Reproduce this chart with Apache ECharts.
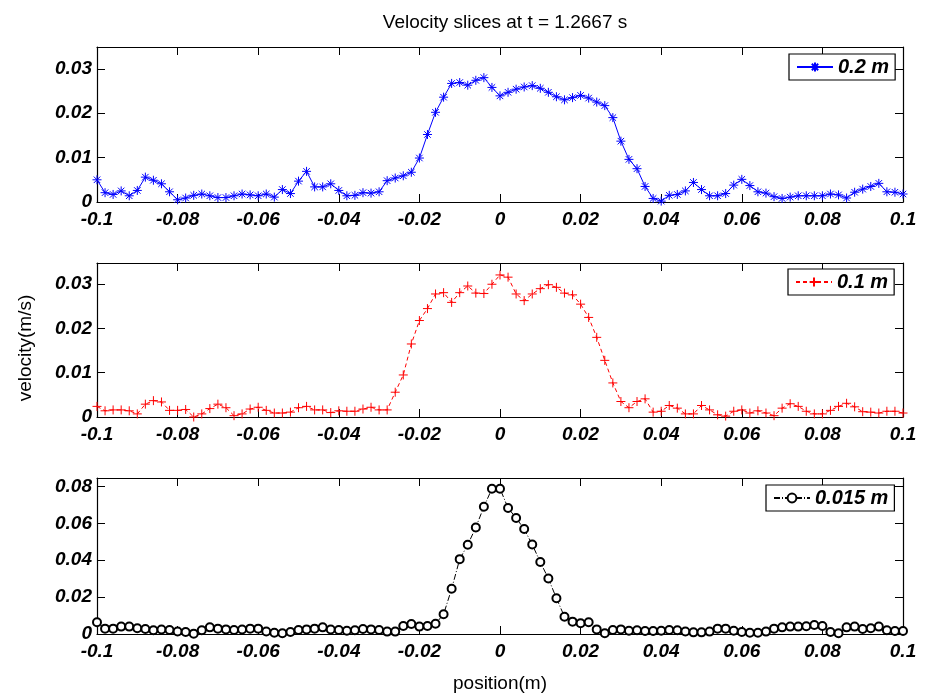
<!DOCTYPE html>
<html>
<head>
<meta charset="utf-8">
<script src="https://cdn.jsdelivr.net/npm/echarts@6/dist/echarts.min.js"></script>
<style>
  html, body { margin: 0; padding: 0; background: #fff; }
  #velocity-slices { width: 928px; height: 695px; }
</style>
</head>
<body>
<div id="velocity-slices"></div>
<script>
// sample positions along the slice (m), 101 points from -0.1 to 0.1
var positions = [];
for (var i = 0; i <= 100; i++) {
  positions.push(+(-0.1 + i * 0.002).toFixed(3));
}

var xTicks = ["-0.1", "-0.08", "-0.06", "-0.04", "-0.02", "0", "0.02", "0.04", "0.06", "0.08", "0.1"];
var sliceNames = ["0.2 m", "0.1 m", "0.015 m"];

// velocity (m/s) at height 0.2 m
var vel02 = [
  0.0050, 0.0021, 0.0017, 0.0025, 0.0014, 0.0026, 0.0056, 0.0049, 0.0041, 0.0023,
  0.0005, 0.0009, 0.0015, 0.0018, 0.0014, 0.0010, 0.0010, 0.0014, 0.0018, 0.0016,
  0.0014, 0.0018, 0.0011, 0.0028, 0.0019, 0.0047, 0.0069, 0.0034, 0.0034, 0.0041,
  0.0026, 0.0014, 0.0015, 0.0021, 0.0020, 0.0023, 0.0048, 0.0054, 0.0059, 0.0067,
  0.0099, 0.0152, 0.0202, 0.0236, 0.0267, 0.0269, 0.0263, 0.0274, 0.0280, 0.0258,
  0.0239, 0.0247, 0.0254, 0.0259, 0.0262, 0.0256, 0.0247, 0.0237, 0.0230, 0.0235,
  0.0240, 0.0234, 0.0225, 0.0217, 0.0190, 0.0137, 0.0096, 0.0075, 0.0035, 0.0008,
  0.0002, 0.0015, 0.0017, 0.0025, 0.0044, 0.0028, 0.0014, 0.0014, 0.0019, 0.0038,
  0.0051, 0.0037, 0.0023, 0.0020, 0.0012, 0.0008, 0.0011, 0.0014, 0.0014, 0.0014,
  0.0014, 0.0018, 0.0016, 0.0009, 0.0022, 0.0029, 0.0035, 0.0042, 0.0023, 0.0022,
  0.0018
];

// velocity (m/s) at height 0.1 m
var vel01 = [
  0.0024, 0.0014, 0.0016, 0.0016, 0.0014, 0.0007, 0.0029, 0.0037, 0.0034, 0.0015,
  0.0015, 0.0017, 0.0000, 0.0007, 0.0019, 0.0029, 0.0021, 0.0003, 0.0007, 0.0018,
  0.0022, 0.0015, 0.0009, 0.0009, 0.0011, 0.0021, 0.0024, 0.0016, 0.0016, 0.0010,
  0.0014, 0.0013, 0.0013, 0.0018, 0.0022, 0.0016, 0.0016, 0.0056, 0.0095, 0.0165,
  0.0218, 0.0245, 0.0278, 0.0281, 0.0259, 0.0281, 0.0296, 0.0280, 0.0279, 0.0300,
  0.0321, 0.0316, 0.0278, 0.0263, 0.0278, 0.0290, 0.0299, 0.0293, 0.0280, 0.0276,
  0.0255, 0.0225, 0.0180, 0.0128, 0.0077, 0.0035, 0.0021, 0.0035, 0.0041, 0.0011,
  0.0013, 0.0026, 0.0020, 0.0007, 0.0007, 0.0026, 0.0016, 0.0005, 0.0002, 0.0013,
  0.0016, 0.0009, 0.0014, 0.0009, 0.0003, 0.0020, 0.0030, 0.0024, 0.0013, 0.0007,
  0.0007, 0.0015, 0.0024, 0.0031, 0.0023, 0.0012, 0.0011, 0.0009, 0.0013, 0.0013,
  0.0009
];

// velocity (m/s) at height 0.015 m
var vel0015 = [
  0.0064, 0.0029, 0.0029, 0.0040, 0.0040, 0.0031, 0.0027, 0.0020, 0.0024, 0.0022,
  0.0014, 0.0011, 0.0002, 0.0020, 0.0036, 0.0029, 0.0025, 0.0022, 0.0024, 0.0029,
  0.0029, 0.0014, 0.0007, 0.0004, 0.0011, 0.0022, 0.0025, 0.0029, 0.0036, 0.0024,
  0.0022, 0.0018, 0.0020, 0.0027, 0.0025, 0.0022, 0.0013, 0.0013, 0.0043, 0.0054,
  0.0040, 0.0043, 0.0056, 0.0107, 0.0245, 0.0406, 0.0484, 0.0578, 0.0690, 0.0788,
  0.0788, 0.0683, 0.0629, 0.0569, 0.0485, 0.0390, 0.0301, 0.0194, 0.0094, 0.0067,
  0.0058, 0.0064, 0.0025, 0.0004, 0.0022, 0.0025, 0.0018, 0.0020, 0.0016, 0.0016,
  0.0018, 0.0022, 0.0020, 0.0014, 0.0009, 0.0009, 0.0013, 0.0029, 0.0029, 0.0018,
  0.0011, 0.0007, 0.0007, 0.0013, 0.0029, 0.0036, 0.0040, 0.0040, 0.0042, 0.0049,
  0.0043, 0.0011, 0.0004, 0.0036, 0.0040, 0.0027, 0.0031, 0.0040, 0.0020, 0.0016,
  0.0016
];

var font = "'Liberation Sans', Arial, Helvetica, sans-serif";
var tickFont = { color: "#000", fontSize: 19, fontWeight: "bold", fontStyle: "italic", fontFamily: font };

// subplot boxes
var grids = [
  { left: 97, top: 47, width: 806, height: 155 },
  { left: 97, top: 263, width: 806, height: 154 },
  { left: 97, top: 478, width: 806, height: 156 }
];
var yMax = [0.0349, 0.0348, 0.0846];
var yStep = [0.01, 0.01, 0.02];
var legendTop = [54, 269, 485];
var legendLeft = [789, 788, 766];

function pairs(vals) {
  var out = [];
  for (var i = 0; i < vals.length; i++) {
    out.push([positions[i], vals[i]]);
  }
  return out;
}

var boxLine = { show: true, onZero: false, lineStyle: { color: "#000", width: 1.2 } };
var inTick = { show: true, inside: true, length: 8, lineStyle: { color: "#000" } };

var xAxes = [], yAxes = [], legends = [];
for (var g = 0; g < 3; g++) {
  // bottom axis with labels
  xAxes.push({
    type: "value", gridIndex: g, position: "bottom",
    min: -0.1, max: 0.1, interval: 0.02,
    axisLine: boxLine, axisTick: inTick,
    axisLabel: Object.assign({
      margin: 8,
      formatter: function (v) { return xTicks[Math.round((v + 0.1) / 0.02)]; }
    }, tickFont),
    splitLine: { show: false }
  });
  // top axis, ticks only
  xAxes.push({
    type: "value", gridIndex: g, position: "top",
    min: -0.1, max: 0.1, interval: 0.02,
    axisLine: boxLine, axisTick: inTick,
    axisLabel: { show: false },
    splitLine: { show: false }
  });
  yAxes.push({
    type: "value", gridIndex: g, position: "left",
    min: 0, max: yMax[g], interval: yStep[g],
    axisLine: boxLine, axisTick: inTick,
    axisLabel: Object.assign({
      margin: 5,
      showMaxLabel: false,
      formatter: function (v) { return +v.toFixed(3) + ""; }
    }, tickFont),
    splitLine: { show: false }
  });
  yAxes.push({
    type: "value", gridIndex: g, position: "right",
    min: 0, max: yMax[g], interval: yStep[g],
    axisLine: boxLine, axisTick: inTick,
    axisLabel: { show: false },
    splitLine: { show: false }
  });
  legends.push({
    data: [sliceNames[g]],
    left: legendLeft[g], top: legendTop[g],
    orient: "horizontal",
    backgroundColor: "#fff",
    borderColor: "#000", borderWidth: 1.2, borderRadius: 0,
    padding: [3, 6, 3, 7],
    itemWidth: 36, itemHeight: 11, itemGap: 4,
    textStyle: { color: "#000", fontSize: 20, fontWeight: "bold", fontStyle: "italic", fontFamily: font }
  });
}

var asterisk = "path://M0,-5L0,5M-5,0L5,0M-3.6,-3.6L3.6,3.6M-3.6,3.6L3.6,-3.6";
var plus = "path://M0,-5L0,5M-5,0L5,0";

var option = {
  animation: false,
  backgroundColor: "#fff",
  title: {
    text: "Velocity slices at t = 1.2667 s",
    left: 500, top: 8, textAlign: "center",
    textStyle: { color: "#000", fontSize: 19, fontWeight: "normal", fontFamily: font }
  },
  grid: grids,
  xAxis: xAxes,
  yAxis: yAxes,
  legend: legends,
  graphic: [
    {
      type: "text", x: 26, y: 348, rotation: Math.PI / 2,
      style: { text: "velocity(m/s)", fill: "#000", fontSize: 19, fontFamily: font, align: "center", verticalAlign: "middle" }
    },
    {
      type: "text", x: 500, y: 684,
      style: { text: "position(m)", fill: "#000", fontSize: 19, fontFamily: font, align: "center", verticalAlign: "middle" }
    }
  ],
  series: [
    {
      name: sliceNames[0], type: "line", xAxisIndex: 0, yAxisIndex: 0,
      data: pairs(vel02), clip: false,
      symbol: asterisk, symbolSize: 9,
      lineStyle: { color: "#0000ff", width: 1, type: "solid" },
      itemStyle: { color: "#0000ff", borderColor: "#0000ff", borderWidth: 1 }
    },
    {
      name: sliceNames[1], type: "line", xAxisIndex: 2, yAxisIndex: 2,
      data: pairs(vel01), clip: false,
      symbol: plus, symbolSize: 9,
      lineStyle: { color: "#ff0000", width: 1, type: [4, 3] },
      itemStyle: { color: "#ff0000", borderColor: "#ff0000", borderWidth: 1 }
    },
    {
      name: sliceNames[2], type: "line", xAxisIndex: 4, yAxisIndex: 4,
      data: pairs(vel0015), clip: false,
      symbol: "emptyCircle", symbolSize: 8,
      lineStyle: { color: "#000", width: 1, type: [6, 2, 1, 2] },
      itemStyle: { color: "#000", borderColor: "#000", borderWidth: 0.9 }
    }
  ]
};

var chart = echarts.init(document.getElementById("velocity-slices"), null, { renderer: "canvas" });
chart.setOption(option);
window.addEventListener("resize", function () {
  chart.resize();
});
</script>
</body>
</html>
